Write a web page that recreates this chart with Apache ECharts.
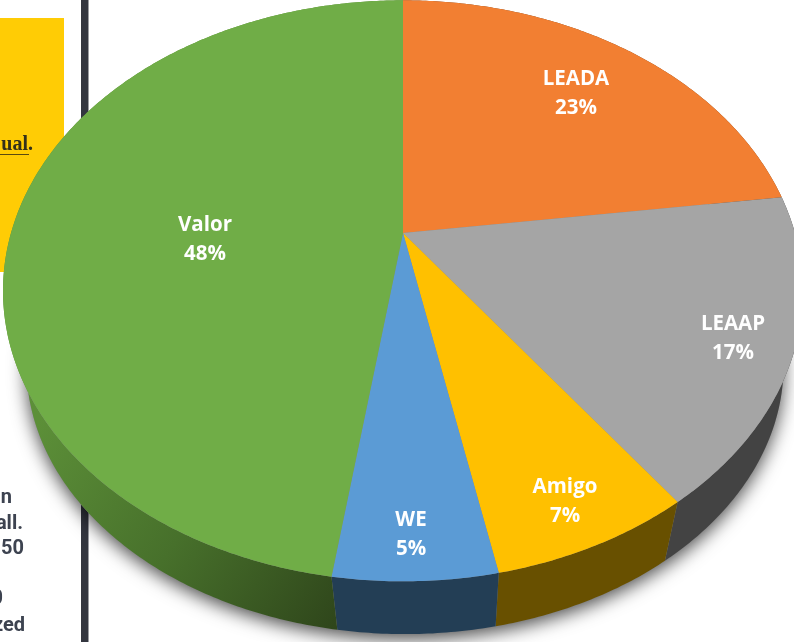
<!DOCTYPE html>
<html>
<head>
<meta charset="utf-8">
<style>
html, body { margin: 0; padding: 0; background: #fff; }
#main { width: 794px; height: 642px; }
</style>
<script src="https://cdn.jsdelivr.net/npm/echarts@6/dist/echarts.min.js"></script>
</head>
<body>
<div id="main"></div>
<script>
var names = ['LEADA', 'LEAAP', 'Amigo', 'WE', 'Valor'];
var values = [22.9, 17.1, 6.85, 5.49, 47.66];
var colors = ['#F27F32', '#A5A5A5', '#FFC000', '#5B9BD5', '#70AD47'];
var wallColors = ['#7a4018', '#434343', '#685000', '#233E55', '#3f6326'];

// tilted disc: top face and the smaller looking bottom face
var topFace = { cx: 403, cy: 233, a: 392, b: 279 };
var lowFace = { cx: 405, cy: 312, a: 371, b: 258 };
var persp = 0.199;
// label centres, excel "best fit" puts them by hand
var labelAt = [[576, 94], [733, 339], [565, 502], [411, 535], [205, 240]];

var total = 0;
for (var i = 0; i < values.length; i++) total += values[i];

function project(face, t, r) {
    var u = r * Math.sin(t), v = r * Math.cos(t), d = 1 + persp * v;
    return [face.cx + face.a * u / d, face.cy - face.b * v / d];
}
function arc(face, t0, t1) {
    var pts = [], n = Math.max(2, Math.ceil(Math.abs(t1 - t0) / 0.01));
    for (var k = 0; k <= n; k++) pts.push(project(face, t0 + (t1 - t0) * k / n, 1));
    return pts;
}
function sliceRange(idx) {
    var sum = 0;
    for (var j = 0; j < idx; j++) sum += values[j];
    return [sum / total * Math.PI * 2, (sum + values[idx]) / total * Math.PI * 2];
}

var wallFill = function (idx) {
    if (idx !== 4) return wallColors[idx];
    // valor side goes dark towards the front
    return new echarts.graphic.LinearGradient(40, 420, 340, 620, [
        { offset: 0, color: '#5c8f38' },
        { offset: 0.5, color: '#47702b' },
        { offset: 1, color: '#2f461b' }
    ], true);
};

var myChart = echarts.init(document.getElementById('main'), null, { renderer: 'canvas' });
var rows = [];
for (var i = 0; i < names.length; i++) rows.push({ name: names[i], value: values[i] });

var option = {
    animation: false,
    backgroundColor: '#fff',
    graphic: [
        { type: 'rect', z: 0, shape: { x: 0, y: 18, width: 64, height: 254 }, style: { fill: '#FFCC05' } },
        { type: 'rect', z: 0, shape: { x: 81, y: 0, width: 7, height: 642 }, style: { fill: '#33363F' } },
        { type: 'rect', z: 0, shape: { x: 88, y: 0, width: 1, height: 642 }, style: { fill: '#9a9ca2' } },
        { type: 'text', z: 0, style: { x: 33, y: 145, text: 'ual.', align: 'right', verticalAlign: 'middle', fill: '#33301a', font: 'bold 20px "Liberation Serif"' } },
        { type: 'rect', z: 0, shape: { x: 0, y: 154, width: 29, height: 1 }, style: { fill: '#5a4a10' } },
        { type: 'text', z: 0, style: { x: 12, y: 498, text: 'n', align: 'right', verticalAlign: 'middle', fill: '#3D4350', font: 'bold 20px Roboto' } },
        { type: 'text', z: 0, style: { x: 23, y: 524, text: 'all.', align: 'right', verticalAlign: 'middle', fill: '#3D4350', font: 'bold 20px Roboto' } },
        { type: 'text', z: 0, style: { x: 24, y: 549, text: '50', align: 'right', verticalAlign: 'middle', fill: '#3D4350', font: 'bold 20px Roboto' } },
        { type: 'text', z: 0, style: { x: 3, y: 599, text: '0', align: 'right', verticalAlign: 'middle', fill: '#3D4350', font: 'bold 20px Roboto' } },
        { type: 'text', z: 0, style: { x: 25, y: 626, text: 'zed', align: 'right', verticalAlign: 'middle', fill: '#3D4350', font: 'bold 20px Roboto' } }
    ],
    series: [
        {
            // soft shadow under the disc
            type: 'custom',
            coordinateSystem: 'none',
            z: 1,
            silent: true,
            data: [total],
            renderItem: function () {
                return {
                    type: 'polygon',
                    shape: { points: arc(lowFace, 0, Math.PI * 2) },
                    style: { fill: '#888', shadowBlur: 18, shadowColor: 'rgba(0,0,0,0.7)', shadowOffsetX: 0, shadowOffsetY: 5 }
                };
            }
        },
        {
            type: 'custom',
            coordinateSystem: 'none',
            z: 2,
            silent: true,
            data: rows,
            renderItem: function (params) {
                var r = sliceRange(params.dataIndex);
                var pts = arc(topFace, r[0], r[1]).concat(arc(lowFace, r[1], r[0]));
                return { type: 'polygon', shape: { points: pts }, style: { fill: wallFill(params.dataIndex) } };
            }
        },
        {
            type: 'custom',
            coordinateSystem: 'none',
            z: 3,
            silent: true,
            data: rows,
            renderItem: function (params) {
                var r = sliceRange(params.dataIndex);
                var pts = [[topFace.cx, topFace.cy]].concat(arc(topFace, r[0], r[1]));
                return { type: 'polygon', shape: { points: pts }, style: { fill: colors[params.dataIndex] } };
            }
        },
        {
            type: 'custom',
            coordinateSystem: 'none',
            z: 4,
            silent: true,
            data: rows,
            renderItem: function (params) {
                var idx = params.dataIndex;
                return {
                    type: 'text',
                    style: {
                        x: labelAt[idx][0],
                        y: labelAt[idx][1],
                        text: names[idx] + '\n' + Math.round(values[idx]) + '%',
                        align: 'center',
                        verticalAlign: 'middle',
                        lineHeight: 29,
                        fill: '#fff',
                        font: 'bold 20.5px "Open Sans"'
                    }
                };
            }
        }
    ]
};
myChart.setOption(option);
</script>
</body>
</html>
